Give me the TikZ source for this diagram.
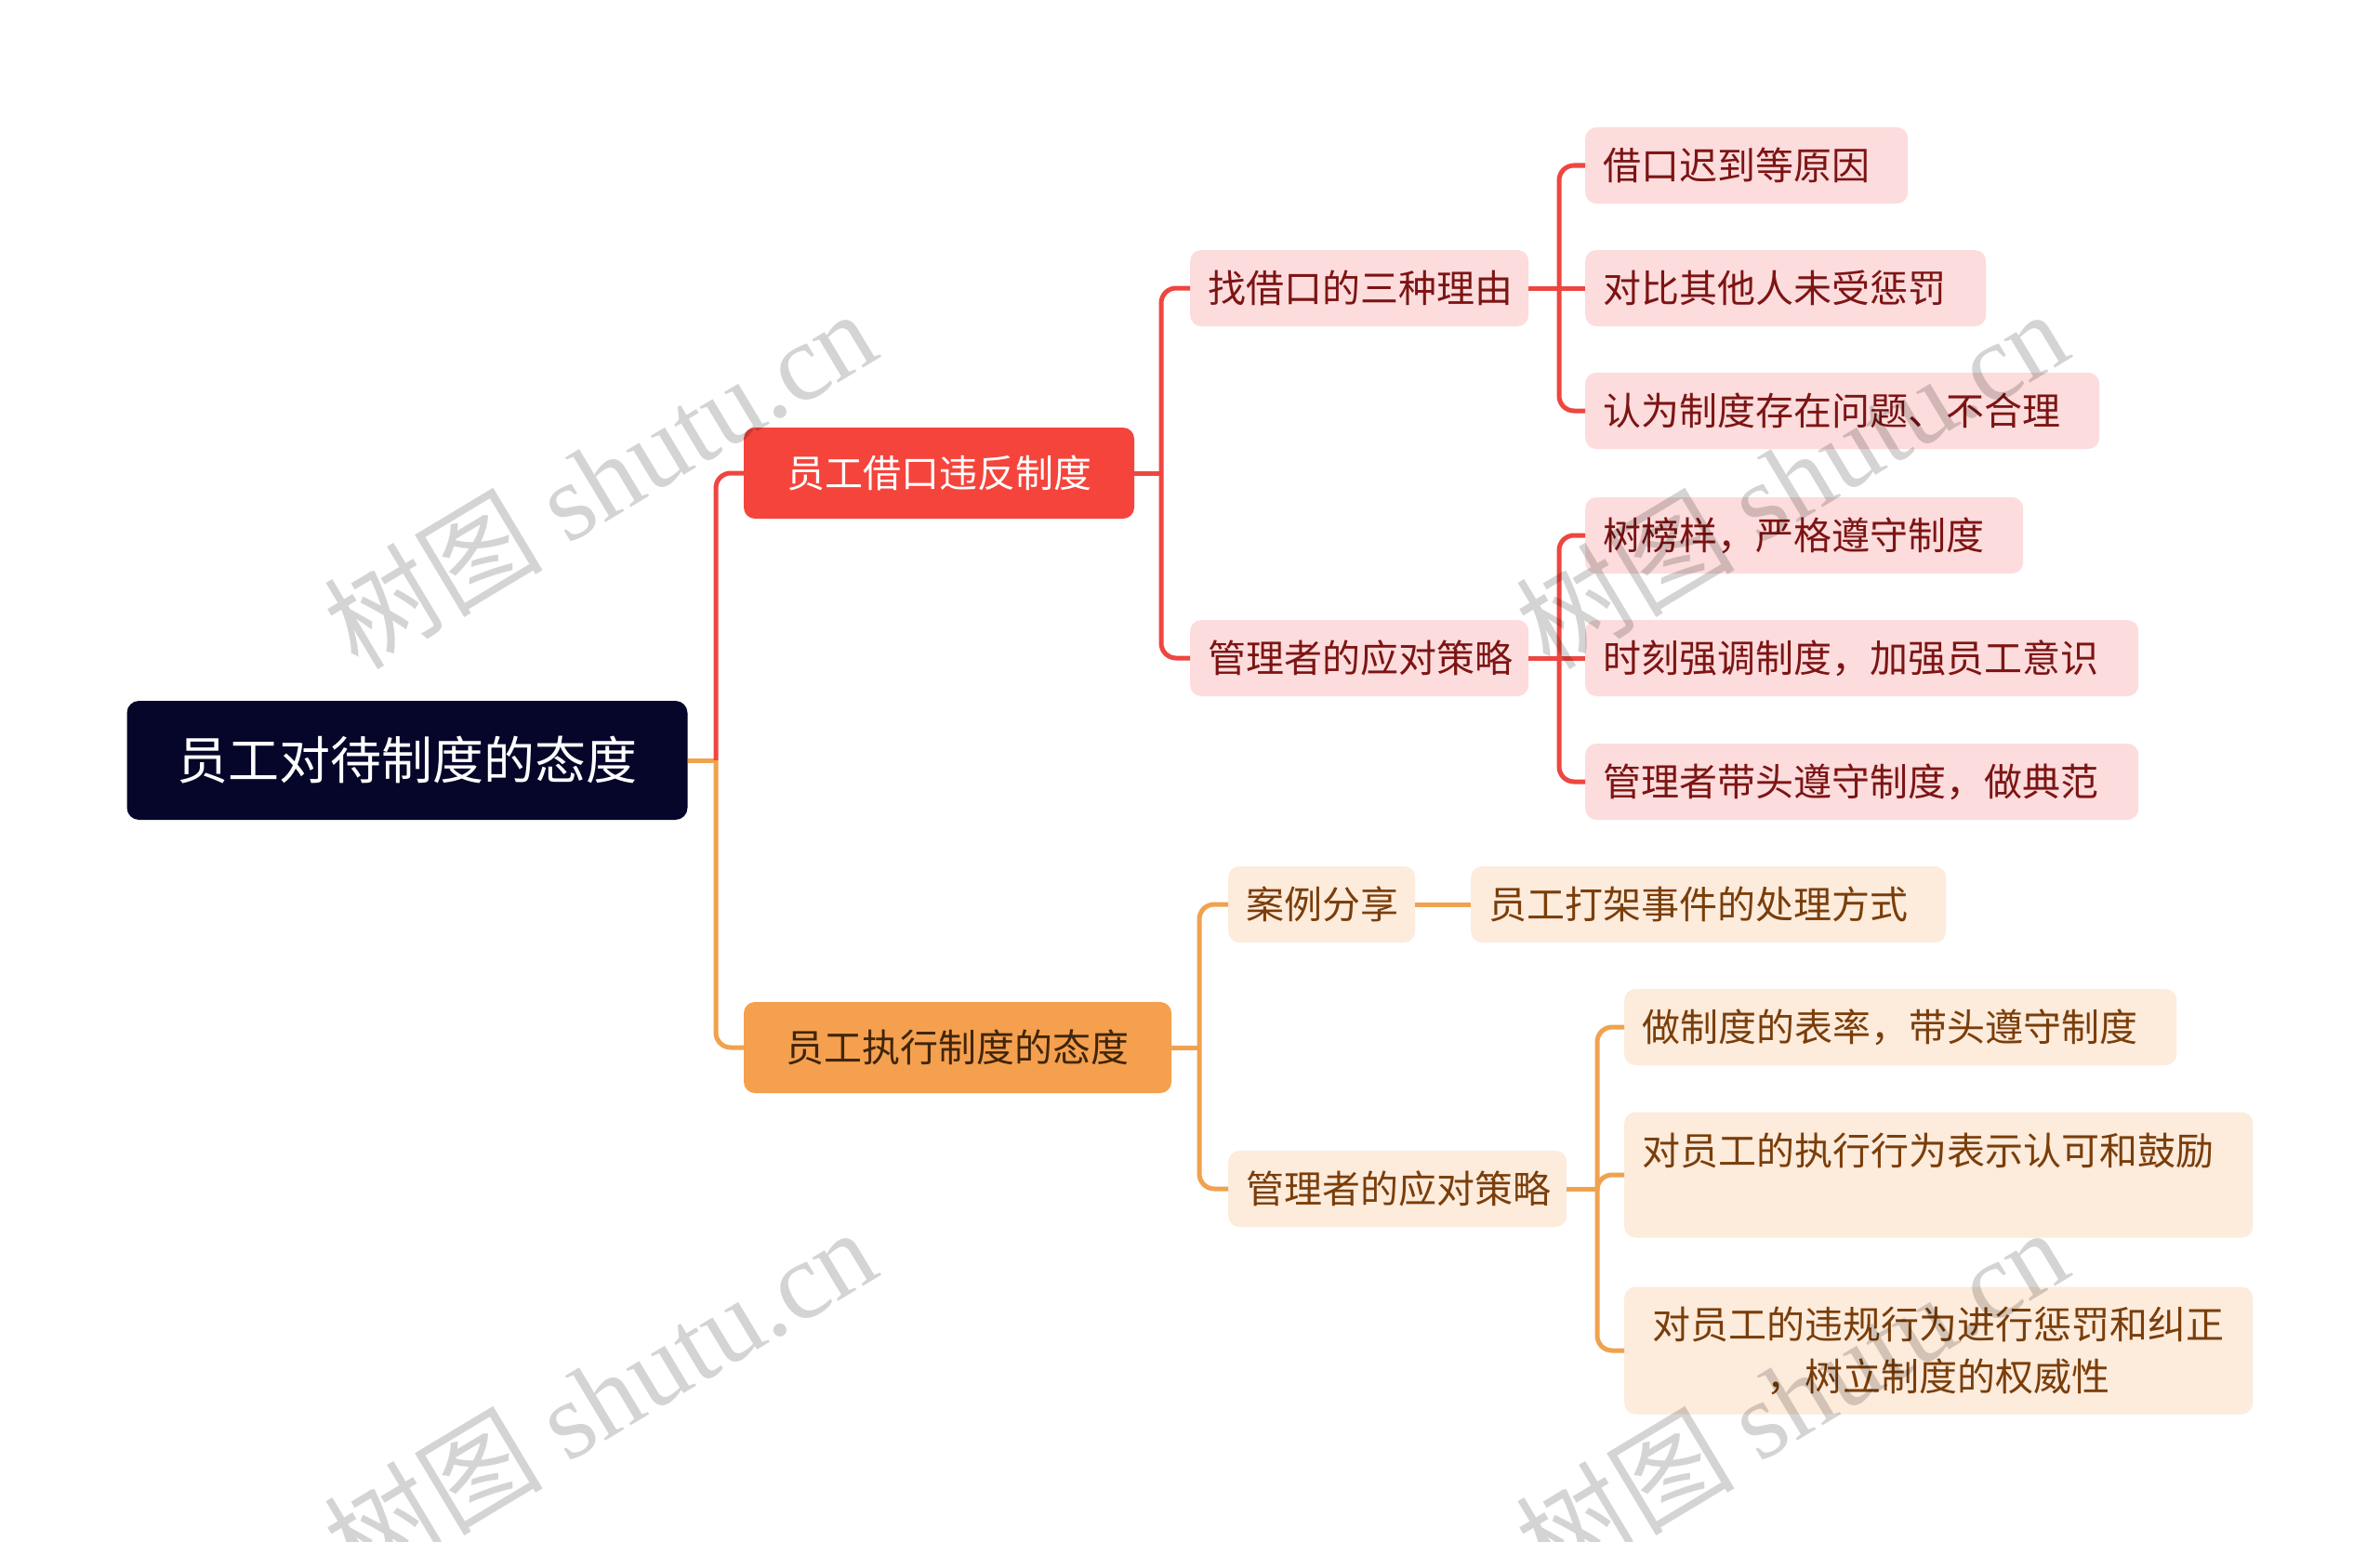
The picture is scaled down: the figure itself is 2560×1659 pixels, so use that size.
\documentclass[tikz,border=0pt]{standalone}
\usepackage{fontspec}
\setmainfont{Noto Sans CJK SC}
\newfontfamily\wmlatin{Liberation Serif}
\definecolor{rootfill}{HTML}{06062B}
\definecolor{redmain}{HTML}{F5443C}
\definecolor{redline}{HTML}{EE4640}
\definecolor{pinkfill}{HTML}{FCDCDC}
\definecolor{redtext}{HTML}{7D1414}
\definecolor{orgmain}{HTML}{F5A04F}
\definecolor{orgline}{HTML}{F0A24F}
\definecolor{orgfill}{HTML}{FDEBDC}
\definecolor{orgtext}{HTML}{7A3E0A}
\definecolor{orgdark}{HTML}{40250A}
\begin{document}
\begin{tikzpicture}[x=1pt,y=-1pt,
  rootbox/.style={fill=rootfill, rounded corners=13pt, text=white, font=\fontsize{55}{60}\selectfont, minimum width=603pt, minimum height=128pt, inner sep=0pt},
  redbranch/.style={fill=redmain, rounded corners=12pt, text=white, font=\fontsize{41}{46}\selectfont, minimum width=420pt, minimum height=98pt, inner sep=0pt},
  orgbranch/.style={fill=orgmain, rounded corners=12pt, text=orgdark, font=\fontsize{41}{46}\selectfont, minimum width=460pt, minimum height=98pt, inner sep=0pt},
  pinkbox/.style={fill=pinkfill, rounded corners=12pt, text=redtext, font=\fontsize{41}{56}\selectfont, minimum height=82pt, inner xsep=19pt, inner ysep=0pt, align=left, anchor=west},
  orgbox/.style={fill=orgfill, rounded corners=12pt, text=orgtext, font=\fontsize{41}{56}\selectfont, minimum height=82pt, inner xsep=19pt, inner ysep=0pt, align=left, anchor=west},
  rline/.style={draw=redline, line width=5pt, rounded corners=16pt},
  oline/.style={draw=orgline, line width=5pt, rounded corners=16pt},
  wm/.style={rotate=31, text=black, opacity=0.17, font=\fontsize{118}{125}\selectfont}
]
\useasboundingbox (0,0) rectangle (2560,1659);
\fill[white] (0,0) rectangle (2560,1659);

% root and branches
\node[rootbox] (root) at (438,818) {员工对待制度的态度};
\node[redbranch] (b1) at (1010,509) {员工借口违反制度};
\node[orgbranch] (b2) at (1030,1127) {员工执行制度的态度};

% red level 2
\node[pinkbox, text width=326pt] (r1) at (1280,310) {找借口的三种理由};
\node[pinkbox, text width=326pt] (r2) at (1280,708) {管理者的应对策略};

% red level 3
\node[pinkbox, text width=309pt] (r11) at (1705,178) {借口迟到等原因};
\node[pinkbox, text width=393pt] (r12) at (1705,310) {对比其他人未受惩罚};
\node[pinkbox, text width=515pt] (r13) at (1705,442) {认为制度存在问题、不合理};
\node[pinkbox, text width=433pt] (r21) at (1705,576) {树榜样，严格遵守制度};
\node[pinkbox, text width=557pt] (r22) at (1705,708) {时刻强调制度，加强员工意识};
\node[pinkbox, text width=557pt] (r23) at (1705,841) {管理者带头遵守制度，做典范};

% orange level 2
\node[orgbox, text width=163pt] (o1) at (1321,973) {案例分享};
\node[orgbox, text width=326pt] (o2) at (1321,1279) {管理者的应对策略};

% orange level 3
\node[orgbox, text width=473pt] (o11) at (1582,973) {员工打架事件的处理方式};
\node[orgbox, text width=556pt] (o21) at (1747,1105) {做制度的表率，带头遵守制度};
\node[orgbox, text width=638pt, minimum height=135pt] (o22) at (1747,1264) {对员工的执行行为表示认可和鼓励\\ \mbox{}};
\node[orgbox, text width=638pt, minimum height=137pt, align=center] (o23) at (1747,1453) {对员工的违规行为进行惩罚和纠正\\ ，树立制度的权威性};

% junction coordinates
\coordinate (j0) at (770,818);
\coordinate (j1) at (1249,509);
\coordinate (j2) at (1290,1127);
\coordinate (jr1) at (1677,310);
\coordinate (jr2) at (1677,708);
\coordinate (jo2) at (1718,1279);

% connectors root
\draw[oline] (root.east) -- (j0);
\draw[rline] (j0) |- (b1.west);
\draw[oline] (j0) |- (b2.west);

% red connectors
\draw[rline] (b1.east) -- (j1);
\draw[rline] (j1) |- (r1.west);
\draw[rline] (j1) |- (r2.west);
\draw[rline] (r1.east) -- (jr1);
\draw[rline] (jr1) |- (r11.west);
\draw[rline] (jr1) -- (r12.west);
\draw[rline] (jr1) |- (r13.west);
\draw[rline] (r2.east) -- (jr2);
\draw[rline] (jr2) |- (r21.west);
\draw[rline] (jr2) -- (r22.west);
\draw[rline] (jr2) |- (r23.west);

% orange connectors
\draw[oline] (b2.east) -- (j2);
\draw[oline] (j2) |- (o1.west);
\draw[oline] (j2) |- (o2.west);
\draw[oline] (o1.east) -- (o11.west);
\draw[oline] (o2.east) -- (jo2);
\draw[oline] (jo2) |- (o21.west);
\draw[oline] (jo2) |- (o22.west);
\draw[oline] (jo2) |- (o23.west);

% watermarks
\node[wm] (w1) at (645,514) {树图 {\wmlatin shutu.cn}};
\node[wm] (w2) at (645,1502) {树图 {\wmlatin shutu.cn}};
\node[wm] (w3) at (1927,514) {树图 {\wmlatin shutu.cn}};
\node[wm] (w4) at (1927,1502) {树图 {\wmlatin shutu.cn}};
\end{tikzpicture}
\end{document}
